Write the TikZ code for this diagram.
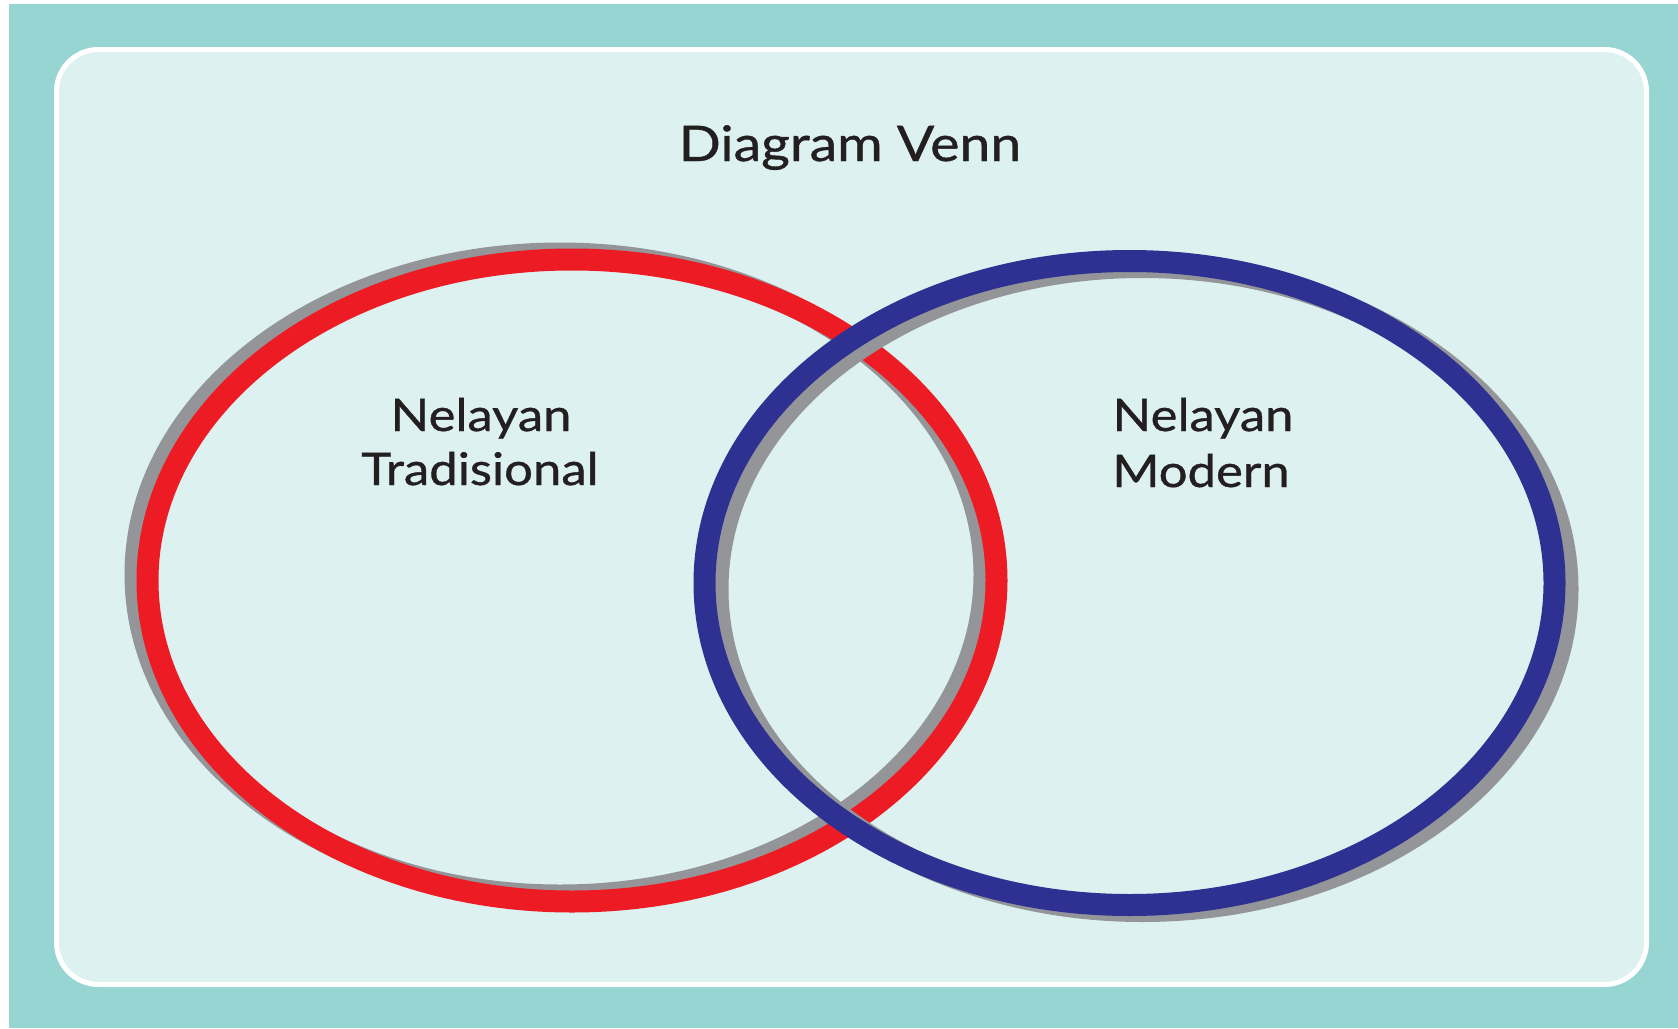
\documentclass[tikz,border=0pt]{standalone}
\usepackage{fontspec}
\setmainfont{Lato}[FakeStretch=1.13,FakeBold=0.8]
\definecolor{frameteal}{HTML}{97D5D2}
\definecolor{panel}{HTML}{DDF1F0}
\definecolor{ringred}{HTML}{ED1C24}
\definecolor{ringblue}{HTML}{2E3192}
\definecolor{ringshadow}{HTML}{939598}
\definecolor{ink}{HTML}{231F20}
\begin{document}
\begin{tikzpicture}[x=1pt,y=-1pt,
  ring/.style={line width=22pt},
  lbl/.style={anchor=base, inner sep=0pt, text=ink, font=\fontsize{45}{50}\selectfont},
  ttl/.style={anchor=base, inner sep=0pt, text=ink, font=\fontsize{49}{54}\selectfont}]
\useasboundingbox (0,0) rectangle (1678,1028);
\fill[white] (0,0) rectangle (1678,1028);
\fill[frameteal] (9,4) rectangle (1678,1028);
\draw[white, line width=5pt, fill=panel, rounded corners=42pt] (56.5,49.5) rectangle (1646.5,984.5);
% red ring
\draw[ring, ringshadow] (560,574.5) ellipse [x radius=424.5pt, y radius=321pt];
\draw[ring, ringred] (572,580.5) ellipse [x radius=424.5pt, y radius=321pt];
% blue ring
\draw[ring, ringshadow] (1142.5,589) ellipse [x radius=425pt, y radius=322pt];
\draw[ring, ringblue] (1129.5,583) ellipse [x radius=425pt, y radius=322pt];
% texts
\node[ttl] (title) at (850,161) {Diagram Venn};
\node[lbl] (trad1) at (481,431) {Nelayan};
\node[lbl] (trad2) at (480,485) {Tradisional};
\node[lbl] (mod1) at (1203,431) {Nelayan};
\node[lbl] (mod2) at (1201,487) {Modern};
\end{tikzpicture}
\end{document}
